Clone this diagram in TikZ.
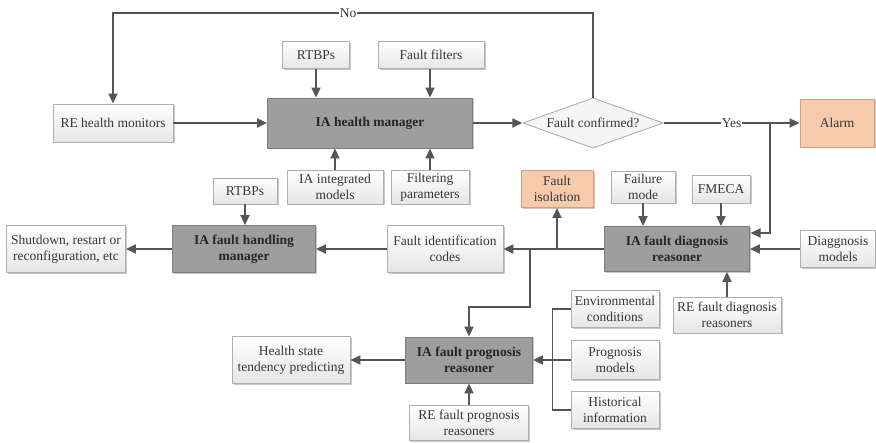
\documentclass[tikz,border=0pt]{standalone}
\usepackage{fontspec}
\setmainfont{Liberation Serif}
\usetikzlibrary{arrows.meta,shadows}
\definecolor{linec}{RGB}{85,85,85}
\definecolor{lightdraw}{RGB}{175,175,175}
\definecolor{darkfill}{RGB}{158,158,158}
\definecolor{darkdraw}{RGB}{125,125,125}
\definecolor{orfill}{RGB}{246,203,172}
\definecolor{ordraw}{RGB}{218,158,118}
\definecolor{txt}{RGB}{55,55,55}
\begin{document}
\begin{tikzpicture}[x=1pt,y=-1pt,
  every node/.style={font=\fontsize{13.5}{16}\selectfont, text=txt, align=center, inner sep=2pt},
  base/.style={rectangle, drop shadow={shadow xshift=1.5pt, shadow yshift=-1.5pt, fill=black, opacity=0.22}},
  lbox/.style={base, draw=lightdraw, line width=0.9pt, top color=white, bottom color=black!10},
  dbox/.style={base, draw=darkdraw, line width=0.9pt, fill=darkfill, font=\fontsize{13.5}{16}\selectfont\bfseries, text=black!85},
  obox/.style={base, draw=ordraw, line width=0.9pt, fill=orfill},
  sz/.style 2 args={minimum width=#1pt, minimum height=#2pt},
  link/.style={draw=linec, line width=1.8pt},
  conn/.style={link, -{Triangle[length=10pt,width=9pt]}},
  lab/.style={fill=white, inner sep=1pt}]
\useasboundingbox (0,0) rectangle (876,443);

% health management stage
\node[lbox, sz={120}{38}] (remon) at (113,123) {RE health monitors};
\node[dbox, sz={205}{50}] (ihm) at (370,123) {IA health manager};
\node[lbox, sz={67}{27}] (rtbp1) at (316,55) {RTBPs};
\node[lbox, sz={106}{27}] (ffilt) at (431,55) {Fault filters};
\node[lbox, sz={96}{34}] (iamod) at (335,187) {IA integrated\\models};
\node[lbox, sz={78}{34}] (fpar) at (430,187) {Filtering\\parameters};

% decision
\draw[draw=lightdraw, line width=0.9pt, fill=black!4] (593,98) -- (663,123) -- (593,148) -- (523,123) -- cycle;
\node[sz={141}{50}, inner sep=0pt] (conf) at (593,123) {Fault confirmed?};
\node[obox, sz={74}{48}] (alarm) at (837,123) {Alarm};

% diagnosis stage
\node[obox, sz={72}{37}] (fiso) at (557,189) {Fault\\isolation};
\node[lbox, sz={64}{32}] (fmode) at (643,187) {Failure\\mode};
\node[lbox, sz={58}{28}] (fmeca) at (721,189) {FMECA};
\node[dbox, sz={145}{45}] (idr) at (677,249) {IA fault diagnosis\\reasoner};
\node[lbox, sz={75}{37}] (dmod) at (838,249) {Diaggnosis\\models};
\node[lbox, sz={108}{36}] (redr) at (727,315) {RE fault diagnosis\\reasoners};
\node[lbox, sz={116}{47}] (codes) at (445,249) {Fault identification\\codes};

% fault handling stage
\node[dbox, sz={143}{47}] (fhm) at (244,249) {IA fault handling\\manager};
\node[lbox, sz={119}{47}] (shut) at (66,249) {Shutdown, restart or\\reconfiguration, etc};
\node[lbox, sz={64}{26}] (rtbp2) at (245,191) {RTBPs};

% prognosis stage
\node[dbox, sz={127}{46}] (fpr) at (469,360) {IA fault prognosis\\reasoner};
\node[lbox, sz={118}{47}] (hstp) at (291,360) {Health state\\tendency predicting};
\node[lbox, sz={119}{35}] (repr) at (469,423) {RE fault prognosis\\reasoners};
\node[lbox, sz={88}{37}] (env) at (615,309) {Environmental\\conditions};
\node[lbox, sz={88}{39}] (pmod) at (615,360) {Prognosis\\models};
\node[lbox, sz={88}{37}] (hist) at (615,410) {Historical\\information};

% junction points
\coordinate (jyes) at (770,123);
\coordinate (din) at (750.5,233);
\coordinate (biso) at (557,249);
\coordinate (bpro) at (530,249);

% health manager links
\draw[conn] (remon.east) -- (ihm.west);
\draw[conn] (rtbp1.south) -- (rtbp1.south |- ihm.north);
\draw[conn] (ffilt.south -| fpar.north) -- (fpar.north |- ihm.north);
\draw[conn] (iamod.north) -- (iamod.north |- ihm.south);
\draw[conn] (fpar.north) -- (fpar.north |- ihm.south);
\draw[conn] (ihm.east) -- (conf.west);
\draw[conn] (conf.north) -- ++(0,-85) -| node[lab, pos=0.255] {No} (remon.north);
\draw[conn] (conf.east) -- node[lab, pos=0.5] {Yes} (alarm.west);

% diagnosis links
\draw[conn] (jyes) |- (din);
\draw[conn] (fmode.south) -- (fmode.south |- idr.north);
\draw[conn] (fmeca.south) -- (fmeca.south |- idr.north);
\draw[conn] (dmod.west) -- (dmod.west -| idr.east);
\draw[conn] (redr.north) -- (redr.north |- idr.south);
\draw[conn] (idr.west) -- (codes.east);
\draw[conn] (biso) -- (fiso.south);
\draw[conn] (bpro) -- (530,307) -| (fpr.north);

% handling links
\draw[conn] (codes.west) -- (fhm.east);
\draw[conn] (rtbp2.south) -- (rtbp2.south |- fhm.north);
\draw[conn] (fhm.west) -- (shut.east);

% prognosis links
\draw[conn] (fpr.west) -- (hstp.east);
\draw[conn] (repr.north) -- (fpr.south);
\draw[link, line width=1.5pt] (env.west) -- ++(-18,0) |- (hist.west);
\draw[conn] (pmod.west) -- (fpr.east);
\end{tikzpicture}
\end{document}
